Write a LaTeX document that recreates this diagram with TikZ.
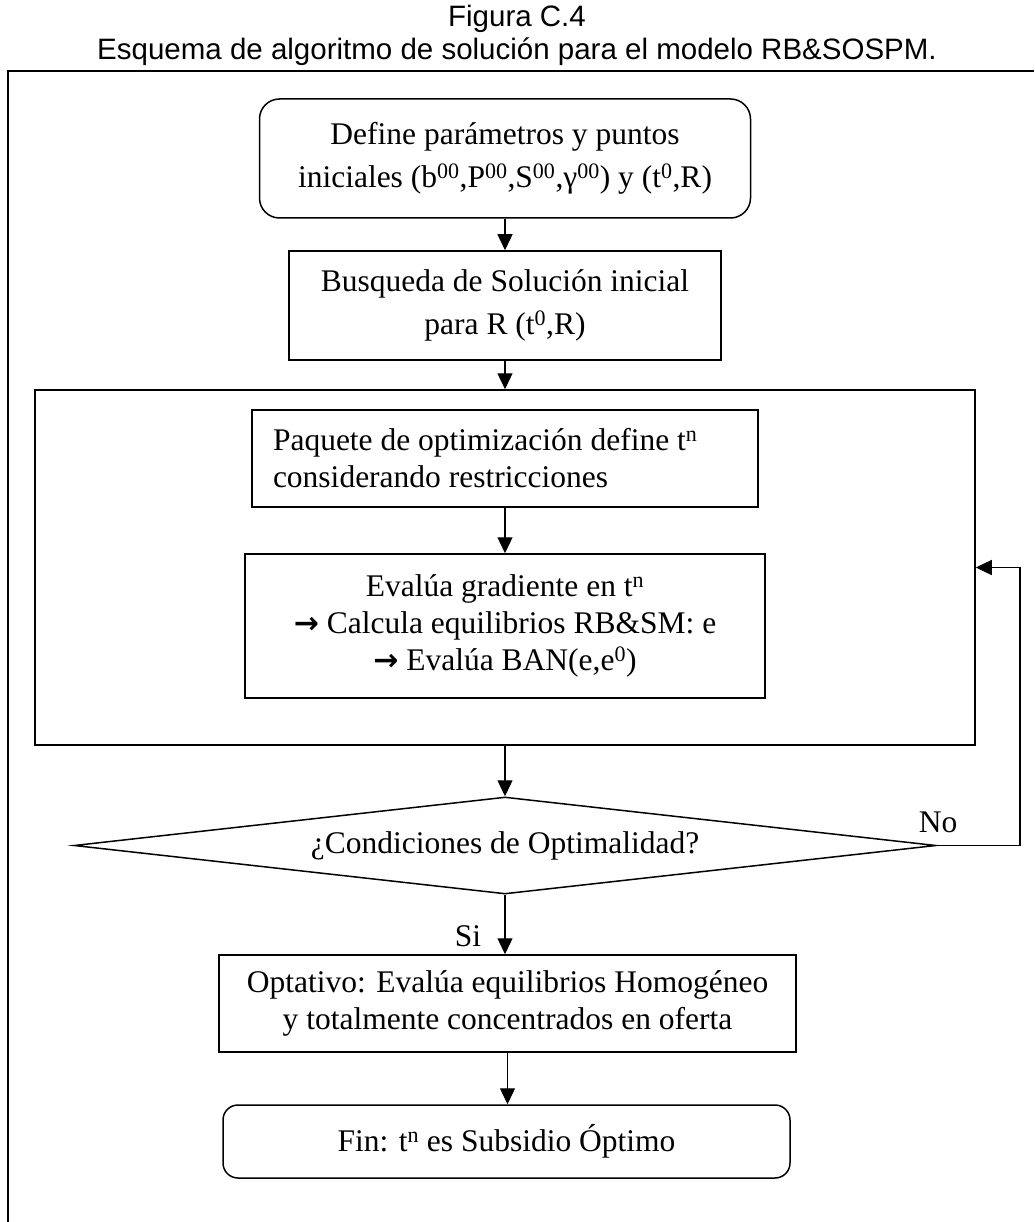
\documentclass[tikz,border=0pt]{standalone}
\usepackage{fontspec}
\setmainfont{Liberation Serif}
\newfontfamily\titlefont{Liberation Sans}
\newfontfamily\arrowfont{DejaVu Sans}
\usetikzlibrary{arrows.meta,shapes.geometric}
\newcommand\wdarrow{{\arrowfont\bfseries\fontsize{30}{30}\selectfont →}}
\tikzset{
  box/.style={draw, line width=1.5pt, inner sep=0pt, align=center,
    font=\fontsize{31.5}{37}\selectfont},
  conn/.style={line width=1.3pt, -{Triangle[length=16pt,width=15pt]}},
  lbl/.style={inner sep=0pt, font=\fontsize{31.5}{37}\selectfont},
  ttl/.style={inner sep=0pt, font=\titlefont\fontsize{29.5}{34}\selectfont},
}
\begin{document}
\begin{tikzpicture}[x=1pt,y=-1pt]
\useasboundingbox (0,0) rectangle (1034,1222);
% title
\node[ttl] (t1) at (517,19) {Figura C.4};
\node[ttl] (t2) at (517,52) {Esquema de algoritmo de solución para el modelo RB\&SOSPM.};
% frame
\draw[line width=1.5pt] (1034,71) -- (8,71) -- (8,1222);
% boxes
\node[box, rounded corners=20pt, minimum width=491pt, minimum height=119pt,
  font=\fontsize{31.5}{43}\selectfont] (b1) at (505,158.5)
  {\raisebox{-8pt}{\parbox{480pt}{\centering Define parámetros y puntos\\iniciales (b\textsuperscript{00},P\textsuperscript{00},S\textsuperscript{00},γ\textsuperscript{00}) y (t\textsuperscript{0},R)}}};
\node[box, minimum width=432pt, minimum height=109pt,
  font=\fontsize{31.5}{43}\selectfont] (b2) at (505,305.5)
  {Busqueda de Solución inicial\\para R (t\textsuperscript{0},R)};
\node[draw, line width=1.5pt, inner sep=0pt, minimum width=940pt, minimum height=355pt] (big) at (505,567.5) {};
\node[box, minimum width=506pt, minimum height=97pt] (A) at (505,458.5)
  {\parbox{464pt}{\raggedright Paquete de optimización define t\textsuperscript{n}\\considerando restricciones}};
\node[box, minimum width=520pt, minimum height=144pt] (B) at (505,626)
  {\raisebox{3pt}{\parbox{510pt}{\centering Evalúa gradiente en t\textsuperscript{n}\\\wdarrow\ Calcula equilibrios RB\&SM: e\\\wdarrow\ Evalúa BAN(e,e\textsuperscript{0})}}};
\node[draw, line width=1.5pt, diamond, inner sep=0pt, aspect=8.9, minimum width=862pt, minimum height=97pt,
  font=\fontsize{31.5}{37}\selectfont] (dia) at (505,845.5) {¿Condiciones de Optimalidad?};
\node[box, minimum width=577pt, minimum height=97pt] (b5) at (507.5,1003.5)
  {Optativo: Evalúa equilibrios Homogéneo\\y totalmente concentrados en oferta};
\node[box, rounded corners=15pt, minimum width=567pt, minimum height=73pt] (fin) at (506.5,1141.5)
  {Fin: t\textsuperscript{n} es Subsidio Óptimo};
% connectors
\draw[conn] (b1.south) -- (b1.south |- b2.north);
\draw[conn] (b2.south) -- (b2.south |- big.north);
\draw[conn] (A.south) -- (A.south |- B.north);
\draw[conn] (big.south) -- (dia.north);
\draw[conn] (dia.south) -- (dia.south |- b5.north);
\draw[conn] (b5.south) -- (b5.south |- fin.north);
\coordinate (r) at (1020,845.5);
\draw[conn] (dia.east) -- (r) -- (r |- big.east) -- (big.east);
% labels
\node[lbl] (si) at (468,936) {Si};
\node[lbl] (no) at (938,822) {No};
\end{tikzpicture}
\end{document}
